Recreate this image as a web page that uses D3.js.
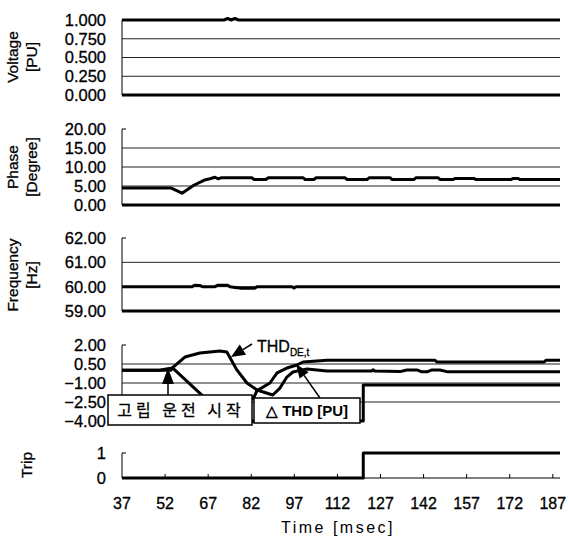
<!DOCTYPE html>
<html>
<head>
<meta charset="utf-8">
<script src="https://cdn.jsdelivr.net/npm/d3@7/dist/d3.min.js"></script>
<style>
  html, body { margin: 0; padding: 0; background: #fff; }
  svg { display: block; font-family: "Liberation Sans", Arial, sans-serif; }
</style>
</head>
<body>
<svg id="chart" width="569" height="539"></svg>
<script>
// time axis (msec)
var timeTicks = [37, 52, 67, 82, 97, 112, 127, 142, 157, 172, 187];
var timeEnd = 189.5;

// y tick labels per panel
var voltageTicks = [0, 0.25, 0.5, 0.75, 1];
var phaseTicks = [0, 5, 10, 15, 20];
var freqTicks = [59, 60, 61, 62];
var thdTicks = [-4, -2.5, -1, 0.5, 2];
var tripTicks = [0, 1];

// series, [time, value]
var voltage = [[37, 1], [72.5, 1], [73.8, 1.02], [75, 1], [76.3, 1.02], [77.6, 1], [189.5, 1]];

var phase = [[37, 4.5], [54, 4.5], [57.9, 3.1], [62, 5.2], [65.5, 6.5], [67.6, 6.9], [69.4, 7.3],
  [70.4, 6.9], [71.8, 7.2], [82.2, 7.2], [83, 6.7], [87.1, 6.7], [88, 7.2], [100, 7.2], [100.8, 6.7],
  [103.8, 6.7], [104.6, 7.2], [114.6, 7.2], [115.4, 6.7], [122.3, 6.7], [123.1, 7.2], [130.3, 7.2],
  [131.1, 6.7], [138.6, 6.7], [139.4, 7.2], [147, 7.2], [147.8, 6.7], [152.2, 6.7], [153, 7.0],
  [159.5, 7.0], [160.3, 6.7], [172.4, 6.7], [173.2, 7.0], [174.8, 7.0], [175.6, 6.7], [189.5, 6.7]];

var frequency = [[37, 60], [61.4, 60], [62.2, 60.06], [64, 60.05], [65, 60], [69.4, 60], [70.4, 60.06],
  [73.8, 60.06], [74.6, 60], [77, 59.96], [78, 59.94], [83.3, 59.94], [84, 60], [96.2, 60],
  [96.9, 59.94], [97.6, 60], [189.5, 60]];

var thdDE = [[37, 0], [50, 0], [54.4, 0.18], [58.9, 1.05], [64.1, 1.37], [71.1, 1.53], [73.5, 1.45],
  [77, 0.03], [80.5, -1.0], [84, -1.55], [89.5, -1.95], [92, -1.4], [94.4, -0.53], [96.5, -0.13],
  [101.4, 0.1], [108.4, -0.05], [124, -0.05], [124.4, 0.05], [125, -0.05], [133.8, -0.1],
  [136.2, 0.03], [139.7, 0.03], [141.4, -0.12], [143.2, -0.12], [144.9, 0.03], [147.7, 0.03],
  [150.5, -0.12], [189.5, -0.12]];

var thdDelta = [[37, 0], [54, 0], [54.6, 0.2], [65, -2.0], [70, -2.7], [80, -2.7], [83, -2.1],
  [84, -1.6], [88.5, -1.0], [91, -0.2], [94.4, 0.18], [97.9, 0.42], [100, 0.66], [108.4, 0.8],
  [146, 0.8], [146.6, 0.66], [184, 0.66], [184.6, 0.8], [189.5, 0.8]];

var thdStep = [[37, -4], [121, -4], [121, -1.15], [189.5, -1.15]];

var trip = [[37, 0], [121, 0], [121, 1], [189.5, 1]];

var svg = d3.select('#chart');
var x = d3.scaleLinear().domain([37, timeEnd]).range([122, 560]);

var panels = [
  { ticks: voltageTicks, range: [95, 20], fmt: d3.format('.3f'), series: [voltage], bottom: 3,
    title: ['Voltage', '[PU]'], titleY: 57 },
  { ticks: phaseTicks, range: [205, 129], fmt: d3.format('.2f'), series: [phase], bottom: 3,
    title: ['Phase', '[Degree]'], titleY: 167 },
  { ticks: freqTicks, range: [311, 238], fmt: d3.format('.2f'), series: [frequency], bottom: 3,
    title: ['Frequency', '[Hz]'], titleY: 275 },
  { ticks: thdTicks, range: [421, 345], fmt: d3.format('.2f'), series: [thdDelta, thdDE, thdStep], bottom: 0 },
  { ticks: tripTicks, range: [478, 453], fmt: d3.format('d'), series: [trip], bottom: 1, xTicks: true,
    title: ['Trip'], titleY: 465 }
];

function ink(sel){ return sel.attr('fill', '#000').attr('stroke', '#000').attr('stroke-width', 0.3); }

panels.forEach(function(p){
  var y = d3.scaleLinear().domain(d3.extent(p.ticks)).range(p.range);
  var g = svg.append('g');
  var top = d3.max(p.ticks), bot = d3.min(p.ticks);

  // gridlines
  p.ticks.forEach(function(t){
    if(t === top){
      g.append('line').attr('x1', 122).attr('x2', 126).attr('y1', y(t)).attr('y2', y(t))
        .attr('stroke', '#000').attr('stroke-width', 1);
    } else if(t === bot){
      if(p.bottom) g.append('line').attr('x1', 122).attr('x2', 560).attr('y1', y(t)).attr('y2', y(t))
        .attr('stroke', '#000').attr('stroke-width', p.bottom);
    } else {
      g.append('line').attr('x1', 122).attr('x2', 560).attr('y1', y(t)).attr('y2', y(t))
        .attr('stroke', '#222').attr('stroke-width', 1);
    }
  });
  // y axis line
  g.append('line').attr('x1', 122).attr('x2', 122).attr('y1', y(top)).attr('y2', y(bot))
    .attr('stroke', '#000').attr('stroke-width', 1);

  // tick labels
  ink(g.selectAll('.yl').data(p.ticks).enter().append('text')
    .attr('x', 106).attr('y', function(d){ return y(d); }).attr('dy', '0.36em')
    .attr('text-anchor', 'end').attr('font-size', 16.5)
    .text(function(d){ return p.fmt(d); }));

  if(p.xTicks){
    g.selectAll('.xt').data(timeTicks.slice(1)).enter().append('line')
      .attr('x1', function(d){ return x(d); }).attr('x2', function(d){ return x(d); })
      .attr('y1', y(bot)).attr('y2', y(bot) - 4).attr('stroke', '#000');
    ink(g.selectAll('.xl').data(timeTicks).enter().append('text')
      .attr('x', function(d){ return x(d); }).attr('y', 509)
      .attr('text-anchor', 'middle').attr('font-size', 16)
      .text(function(d){ return d; }));
  }

  var line = d3.line().x(function(d){ return x(d[0]); }).y(function(d){ return y(d[1]); });
  p.series.forEach(function(s){
    g.append('path').attr('d', line(s)).attr('fill', 'none').attr('stroke', '#000')
      .attr('stroke-width', 3).attr('stroke-linejoin', 'round');
  });

  if(p.title){
    var n = p.title.length;
    p.title.forEach(function(tt, i){
      var cx = n === 1 ? 26 : (i === 0 ? 12 : 31);
      ink(g.append('text').attr('transform', 'translate(' + cx + ',' + p.titleY + ') rotate(-90)')
        .attr('text-anchor', 'middle').attr('dy', '0.36em').attr('font-size', 15.5)
        .text(tt));
    });
  }
});

// x axis title
svg.append('text').attr('x', 338).attr('y', 533).attr('text-anchor', 'middle')
  .attr('font-size', 16).attr('letter-spacing', 2.5).attr('fill', '#000').text('Time [msec]');

// annotations
function arrow(x1, y1, x2, y2, len, w){
  var a = Math.atan2(y2 - y1, x2 - x1);
  var bx = x2 - len * Math.cos(a), by = y2 - len * Math.sin(a);
  var px = -Math.sin(a) * w / 2, py = Math.cos(a) * w / 2;
  svg.append('line').attr('x1', x1).attr('y1', y1).attr('x2', bx).attr('y2', by)
    .attr('stroke', '#000').attr('stroke-width', 1.5);
  svg.append('path').attr('d', 'M' + x2 + ',' + y2 + 'L' + (bx + px) + ',' + (by + py) + 'L' + (bx - px) + ',' + (by - py) + 'Z')
    .attr('fill', '#000');
}

svg.append('rect').attr('x', 108).attr('y', 395).attr('width', 144).attr('height', 30)
  .attr('fill', '#fff').attr('stroke', '#000').attr('stroke-width', 1.5);
ink(svg.append('text').attr('x', 181).attr('y', 410).attr('dy', '0.36em').attr('text-anchor', 'middle')
  .attr('font-family', '"Noto Sans CJK KR", sans-serif').attr('font-size', 16).attr('letter-spacing', 4)
  .text('고립 운전 시작'));

svg.append('rect').attr('x', 254).attr('y', 398).attr('width', 106).attr('height', 25)
  .attr('fill', '#fff').attr('stroke', '#000').attr('stroke-width', 1.5);
svg.append('text').attr('x', 307).attr('y', 411).attr('dy', '0.36em').attr('text-anchor', 'middle')
  .attr('font-size', 15).attr('font-weight', 'bold').attr('fill', '#000').text('△ THD [PU]');

arrow(168, 395, 168, 368, 16, 12);
arrow(252, 344, 231, 357, 14, 12);
arrow(320, 398, 296, 364, 14, 11);

var lbl = ink(svg.append('text').attr('x', 257).attr('y', 352).attr('font-size', 16));
lbl.append('tspan').text('THD');
lbl.append('tspan').attr('font-size', 10).attr('dy', 4).text('DE,t');
</script>
</body>
</html>
